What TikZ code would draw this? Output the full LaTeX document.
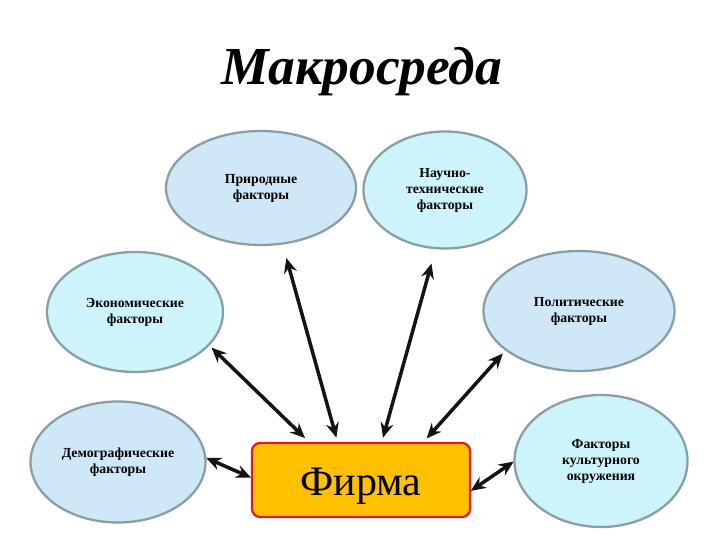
\documentclass[tikz,border=0pt]{standalone}
\usepackage{fontspec}
\setmainfont{Liberation Serif}
\usetikzlibrary{shapes.geometric,arrows.meta}
\definecolor{ellborder}{HTML}{8A9FA3}
\definecolor{ellblue}{HTML}{CFE8F8}
\definecolor{ellcyan}{HTML}{CDF4FA}
\definecolor{firmafill}{HTML}{FFC000}
\definecolor{firmaborder}{HTML}{E01A1A}
\begin{document}
\begin{tikzpicture}[x=1pt,y=-1pt,
  factor/.style={ellipse, draw=ellborder, line width=2.3pt, inner sep=0pt, outer sep=0pt,
    align=center, font=\fontsize{13.8}{16}\selectfont\bfseries},
  firmabox/.style={rectangle, rounded corners=8pt, draw=firmaborder, fill=firmafill,
    line width=2.2pt, inner sep=0pt, outer sep=0pt, minimum width=218pt, minimum height=74pt,
    font=\fontsize{42}{48}\selectfont, text height=36pt, text depth=6pt},
  conn/.style={line width=3.5pt, black!92, {Stealth[length=15pt,width=13pt,inset=5pt]}-{Stealth[length=15pt,width=13pt,inset=5pt]}}
]
\useasboundingbox (0,0) rectangle (720,540);

\node[anchor=base, font=\fontsize{53.5}{60}\selectfont\bfseries\itshape] (title) at (362,85) {Макросреда};

\node[factor, fill=ellblue, minimum width=190pt, minimum height=114pt] (prir) at (261,188) {Природные\\факторы};
\node[factor, fill=ellcyan, minimum width=163pt, minimum height=117pt] (nauch) at (445,190) {Научно-\\технические\\факторы};
\node[factor, fill=ellcyan, minimum width=176pt, minimum height=120pt] (econ) at (135,312) {Экономические\\факторы};
\node[factor, fill=ellblue, minimum width=191pt, minimum height=120pt] (polit) at (579,311) {Политические\\факторы};
\node[factor, fill=ellblue, minimum width=175pt, minimum height=121pt] (demo) at (118,462) {Демографические\\факторы};
\node[factor, fill=ellcyan, minimum width=173pt, minimum height=132pt] (kult) at (601,461) {Факторы\\культурного\\окружения};

\node[firmabox] (firma) at (361,480) {Фирма};

\draw[conn, shorten <=4pt, shorten >=7pt] (econ.-24) -- (firma.144);
\draw[conn, shorten <=15pt, shorten >=5.5pt] (prir.-69) -- (firma.122);
\draw[conn, shorten <=16pt, shorten >=5.5pt] (nauch.-99) -- (firma.61);
\draw[conn, shorten <=5pt, shorten >=6pt] (polit.-152) -- (firma.31);
\draw[conn, shorten <=1pt, shorten >=1pt] (demo.3) -- (firma.179);
\draw[conn, shorten <=1pt, shorten >=1pt] (kult.180) -- (firma.-6);
\end{tikzpicture}
\end{document}
